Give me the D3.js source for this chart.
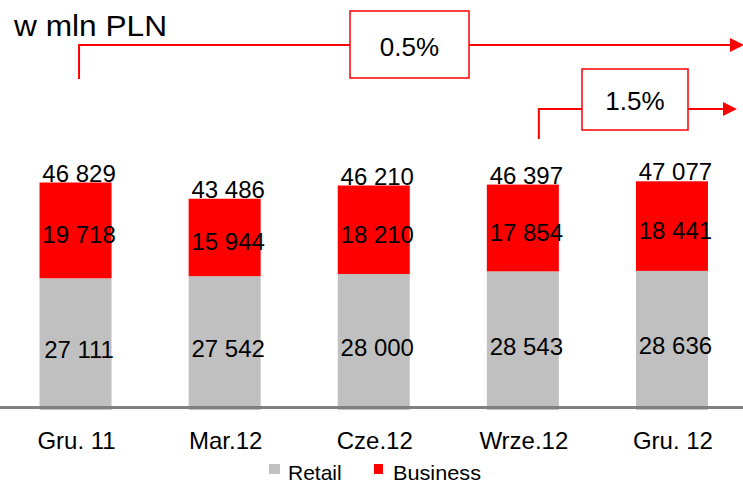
<!DOCTYPE html>
<html>
<head>
<meta charset="utf-8">
<script src="https://cdn.jsdelivr.net/npm/d3@7"></script>
<style>
  html, body { margin: 0; padding: 0; background: #fff; }
  svg { display: block; font-family: "Liberation Sans", Arial, sans-serif; }
</style>
</head>
<body>
<svg id="chart" width="743" height="484"></svg>
<script>
// ---- data ----
const categories = ["Gru. 11", "Mar.12", "Cze.12", "Wrze.12", "Gru. 12"];
const retail   = [27111, 27542, 28000, 28543, 28636];
const business = [19718, 15944, 18210, 17854, 18441];
const totals   = [46829, 43486, 46210, 46397, 47077];
const seriesNames = ["Retail", "Business"];
const growthLabels = ["0.5%", "1.5%"];
const title = "w mln PLN";

const colors = { Retail: "#c0c0c0", Business: "#ff0000" };
const fmt = v => d3.format(",")(v).replace(/,/g, " ");

const svg = d3.select("#chart");
const W = 743, H = 484;

const x = d3.scaleBand().domain(categories).range([1, 746.5]).paddingInner(0.517).paddingOuter(0.2585);
const y = d3.scaleLinear().domain([0, 50000]).range([410, 410 - 50000 * 0.004858]);

const rows = categories.map((c, i) => ({ cat: c, Retail: retail[i], Business: business[i], total: totals[i] }));
const stack = d3.stack().keys(seriesNames)(rows);

// bars
svg.append("g").selectAll("g").data(stack).join("g")
  .attr("fill", d => colors[d.key])
  .selectAll("rect").data(d => d).join("rect")
  .attr("x", d => x(d.data.cat))
  .attr("width", x.bandwidth())
  .attr("y", d => y(d[1]))
  .attr("height", d => y(d[0]) - y(d[1]));

// axis line
svg.append("line").attr("x1", 0).attr("x2", W).attr("y1", 407.5).attr("y2", 407.5)
  .attr("stroke", "#808080").attr("stroke-width", 3);

const cx = c => x(c) + x.bandwidth() / 2;
const labelDx = 3.5;

// segment labels
const lbl = svg.append("g").attr("font-size", 24).attr("fill", "#000").attr("text-anchor", "middle");
rows.forEach(r => {
  lbl.append("text").attr("x", cx(r.cat) + labelDx)
    .attr("y", (y(0) + y(r.Retail)) / 2 + 14).text(fmt(r.Retail));
  lbl.append("text").attr("x", cx(r.cat) + labelDx)
    .attr("y", (y(r.Retail) + y(r.total)) / 2 + 13).text(fmt(r.Business));
  lbl.append("text").attr("x", cx(r.cat) + labelDx)
    .attr("y", y(r.total) - 1).text(fmt(r.total));
});

// category labels
svg.append("g").attr("font-size", 24).attr("text-anchor", "middle")
  .selectAll("text").data(categories).join("text")
  .attr("x", d => cx(d) + 1).attr("y", 449).text(d => d);

// legend
const leg = svg.append("g").attr("font-size", 21);
leg.append("rect").attr("x", 269).attr("y", 464).attr("width", 11).attr("height", 10).attr("fill", colors.Retail);
leg.append("text").attr("x", 288).attr("y", 480).text(seriesNames[0]);
leg.append("rect").attr("x", 374).attr("y", 464).attr("width", 9).attr("height", 10).attr("fill", colors.Business);
leg.append("text").attr("x", 393).attr("y", 480).attr("textLength", 88).attr("lengthAdjust", "spacingAndGlyphs").text(seriesNames[1]);

// title
svg.append("text").attr("x", 14).attr("y", 36).attr("font-size", 30)
  .attr("textLength", 153).attr("lengthAdjust", "spacingAndGlyphs").text(title);

// growth arrows
const red = "#ff0000";
const ann = svg.append("g");
function arrow(x0, yTop, yLine, boxX0, boxX1, boxY0, boxY1, tipX, label, textY) {
  ann.append("path")
    .attr("d", `M${x0},${yTop}V${yLine}H${boxX0}M${boxX1},${yLine}H${tipX - 13}`)
    .attr("fill", "none").attr("stroke", red).attr("stroke-width", 2);
  ann.append("path")
    .attr("d", `M${tipX - 14},${yLine - 7}L${tipX},${yLine}L${tipX - 14},${yLine + 7}Z`)
    .attr("fill", red);
  ann.append("rect").attr("x", boxX0).attr("y", boxY0).attr("width", boxX1 - boxX0).attr("height", boxY1 - boxY0)
    .attr("fill", "#fff").attr("stroke", red).attr("stroke-width", 1.5);
  ann.append("text").attr("x", (boxX0 + boxX1) / 2).attr("y", textY).attr("text-anchor", "middle")
    .attr("font-size", 26).text(label);
}
arrow(cx(categories[0]) + 3.5, 79, 45, 350, 469, 11, 78, 744, growthLabels[0], 56);
arrow(cx(categories[3]) + 16, 139, 109, 582, 688, 69, 130, 737, growthLabels[1], 110);
</script>
</body>
</html>
